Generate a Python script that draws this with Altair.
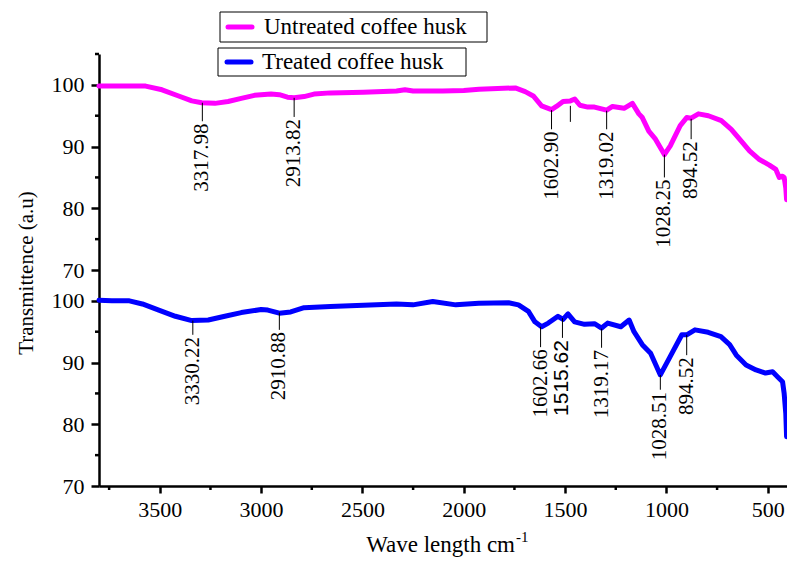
import altair as alt
import pandas as pd

# ---------------- data ----------------
top_x = [3800, 3570, 3489, 3407, 3342, 3293, 3228, 3163, 3098, 3033, 2951, 2910, 2870, 2837,
         2788, 2739, 2658, 2495, 2332, 2290, 2250, 2104, 2000, 1925, 1746, 1697, 1657, 1616,
         1567, 1543, 1510, 1474, 1452, 1427, 1388, 1355, 1295, 1266, 1209, 1168, 1136, 1119,
         1087, 1054, 1010, 981, 932, 900, 878, 842, 793, 729, 680, 639, 590, 541, 492, 460,
         443, 427, 419, 411, 407]
top_y = [99.8, 99.8, 99.2, 98.2, 97.4, 97.1, 97.0, 97.3, 97.8, 98.3, 98.5, 98.4, 98.0, 97.9,
         98.1, 98.5, 98.7, 98.8, 99.0, 99.2, 99.0, 99.0, 99.1, 99.3, 99.5, 98.9, 98.2, 96.6,
         96.0, 96.5, 97.3, 97.4, 97.7, 96.7, 96.4, 96.4, 95.9, 96.5, 96.2, 97.0, 95.3, 94.7,
         92.5, 91.2, 88.7, 90.1, 93.4, 94.7, 94.6, 95.3, 95.0, 94.2, 92.8, 91.2, 89.3, 87.9,
         87.0, 86.3, 85.0, 85.2, 85.0, 83.3, 81.4]

bot_x = [3800, 3737, 3650, 3586, 3505, 3423, 3342, 3261, 3179, 3098, 3000, 2967, 2910, 2854,
         2788, 2658, 2495, 2332, 2251, 2153, 2039, 1926, 1779, 1730, 1681, 1649, 1616, 1583,
         1535, 1510, 1486, 1453, 1404, 1355, 1320, 1290, 1225, 1184, 1160, 1119, 1078, 1030,
         981, 924, 900, 859, 794, 731, 688, 655, 607, 558, 511, 476, 452, 427, 419, 411, 407]
bot_y = [100.1, 100.0, 100.0, 99.5, 98.5, 97.5, 96.8, 96.9, 97.5, 98.1, 98.6, 98.5, 98.0, 98.2,
         98.9, 99.1, 99.3, 99.5, 99.35, 99.9, 99.35, 99.6, 99.7, 99.35, 98.3, 96.6, 95.8, 96.4,
         97.5, 97.0, 97.9, 96.6, 96.2, 96.3, 95.6, 96.4, 95.8, 96.9, 95.0, 92.9, 91.5, 88.0,
         91.0, 94.5, 94.5, 95.3, 94.9, 94.2, 92.9, 91.2, 89.6, 88.8, 88.3, 88.5, 87.7, 86.9,
         85.0, 81.8, 78.0]

series_names = ["Untreated coffee husk", "Treated coffee husk"]
series_colors = ["#FF00FF", "#0000FF"]
panel_offset = [35, 0]   # top panel is stacked above the bottom one

top_peak_x = [3290, 2837, 1567, 1474, 1295, 1010, 878]
top_peak_labels = ["3317.98", "2913.82", "1602.90", "", "1319.02", "1028.25", "894.52"]
top_line_from = [97.1, 97.9, 95.9, 96.6, 95.8, 88.7, 94.5]
top_line_to = [94.1, 94.8, 92.8, 94.0, 92.8, 85.0, 91.2]

bot_peak_x = [3337, 2910, 1621, 1513, 1320, 1030, 900]
bot_peak_labels = ["3330.22", "2910.88", "1602.66", "1515.62", "1319.17", "1028.51", "894.52"]
bot_line_from = [96.8, 98.1, 95.8, 97.2, 95.5, 88.0, 94.5]
bot_line_to = [94.5, 95.3, 92.5, 94.0, 92.4, 85.6, 91.2]
bot_sans = [False, False, False, True, False, False, False]

x_major = [3500, 3000, 2500, 2000, 1500, 1000, 500]
x_minor = [3750, 3250, 2750, 2250, 1750, 1250, 750]
y_major = [70, 80, 90, 100, 105, 115, 125, 135]      # bottom 70..100, top 70..100
y_major_text = ["70", "80", "90", "100", "70", "80", "90", "100"]
y_minor = [75, 85, 95, 110, 120, 130, 140]

# ---------------- tables ----------------
curves = pd.concat([
    pd.DataFrame({"x": top_x, "yp": [v + panel_offset[0] for v in top_y], "series": series_names[0]}),
    pd.DataFrame({"x": bot_x, "yp": [v + panel_offset[1] for v in bot_y], "series": series_names[1]}),
], ignore_index=True)

ann = pd.concat([
    pd.DataFrame({"x": top_peak_x, "label": top_peak_labels,
                  "yp": [v + panel_offset[0] for v in top_line_from],
                  "yp2": [v + panel_offset[0] for v in top_line_to],
                  "sans": [False] * len(top_peak_x)}),
    pd.DataFrame({"x": bot_peak_x, "label": bot_peak_labels,
                  "yp": [v + panel_offset[1] for v in bot_line_from],
                  "yp2": [v + panel_offset[1] for v in bot_line_to],
                  "sans": bot_sans}),
], ignore_index=True)
ann["ypt"] = ann["yp2"] - 0.35

SERIF = "Liberation Serif"
W, H = 688, 432

xscale = alt.Scale(domain=[3800, 405], nice=False, zero=False)
yscale = alt.Scale(domain=[70, 140], nice=False, zero=False)

ylab_map = "{" + ",".join(f"'{v}':'{t}'" for v, t in zip(y_major, y_major_text)) + "}"

x_axis = alt.Axis(values=x_major, format="d", title=None, tickSize=7,
                  labelPadding=6, labelFlush=False, labelOverlap=False)
y_axis = alt.Axis(values=y_major, title=None, tickSize=8,
                  labelExpr=f"{ylab_map}[''+datum.value]",
                  labelPadding=7, labelFlush=False, labelOverlap=False)

lines = alt.Chart(curves).mark_line(strokeWidth=5, strokeJoin="round", strokeCap="round").encode(
    x=alt.X("x:Q", scale=xscale, axis=x_axis),
    y=alt.Y("yp:Q", scale=yscale, axis=y_axis),
    color=alt.Color("series:N", scale=alt.Scale(domain=series_names, range=series_colors), legend=None),
    detail="series:N",
    order=alt.Order("x:Q"),
)

rules = alt.Chart(ann).mark_rule(color="black", strokeWidth=1).encode(
    x=alt.X("x:Q"),
    y=alt.Y("yp:Q"),
    y2="yp2:Q",
)

labels_serif = alt.Chart(ann).transform_filter("!datum.sans").mark_text(
    angle=270, align="right", baseline="middle", font=SERIF, fontSize=21, color="black"
).encode(x=alt.X("x:Q"), y=alt.Y("ypt:Q"), text="label:N")
labels_sans = alt.Chart(ann).transform_filter("datum.sans").mark_text(
    angle=270, align="right", baseline="middle", font="Liberation Sans", fontSize=21, color="black"
).encode(x=alt.X("x:Q"), y=alt.Y("ypt:Q"), text="label:N")

# minor ticks
xminor = alt.Chart(pd.DataFrame({"x": x_minor})).mark_rule(color="black", strokeWidth=2.5).encode(
    x=alt.X("x:Q"), y=alt.value(H), y2=alt.value(H + 4))
yminor = alt.Chart(pd.DataFrame({"yp": y_minor})).mark_rule(color="black", strokeWidth=2.5).encode(
    y=alt.Y("yp:Q"), x=alt.value(0), x2=alt.value(-4))

one = pd.DataFrame({"k": [0]})

legend_layers = []
legend_geom = [  # box x0, x1, y0, y1, swatch x0, x1, y, text x, text baseline y
    (121, 388, -42, -12, 129, 153, -27, 165, -20),
    (119, 367, -6, 22, 128, 152, 8, 163, 15),
]
for name, col, g in zip(series_names, series_colors, legend_geom):
    bx0, bx1, by0, by1, sx0, sx1, sy, tx, ty = g
    legend_layers.append(alt.Chart(one).mark_rect(fill="white", stroke="black", strokeWidth=1).encode(
        x=alt.value(bx0), x2=alt.value(bx1), y=alt.value(by0), y2=alt.value(by1)))
    legend_layers.append(alt.Chart(one).mark_rule(color=col, strokeWidth=5, strokeCap="round").encode(
        x=alt.value(sx0), x2=alt.value(sx1), y=alt.value(sy)))
    legend_layers.append(alt.Chart(one).mark_text(align="left", baseline="alphabetic", font=SERIF,
                                                  fontSize=23, color="black").encode(
        x=alt.value(tx), y=alt.value(ty), text=alt.value(name)))

x_title = alt.Chart(one).mark_text(align="right", baseline="alphabetic", font=SERIF, fontSize=23,
                                   color="black").encode(
    x=alt.value(416), y=alt.value(498), text=alt.value("Wave length cm"))
x_title_sup = alt.Chart(one).mark_text(align="left", baseline="alphabetic", font=SERIF, fontSize=15,
                                       color="black").encode(
    x=alt.value(417), y=alt.value(488), text=alt.value("-1"))
y_title = alt.Chart(one).mark_text(angle=270, align="center", baseline="alphabetic", font=SERIF,
                                   fontSize=21, color="black").encode(
    x=alt.value(-66), y=alt.value(219), text=alt.value("Transmittence (a.u)"))

chart = alt.layer(
    lines, rules, labels_serif, labels_sans, xminor, yminor,
    *legend_layers, x_title, x_title_sup, y_title
).properties(
    width=W, height=H,
    autosize=alt.AutoSizeParams(type="none"),
    padding={"left": 91, "top": 46, "right": 0, "bottom": 76},
).configure_view(stroke=None).configure_axis(
    domainColor="black", domainWidth=2.5, tickColor="black", tickWidth=2.5,
    labelFont=SERIF, labelFontSize=22, labelColor="black", grid=False,
)

chart.save("out.html", embed_options={"renderer": "svg", "actions": False})
